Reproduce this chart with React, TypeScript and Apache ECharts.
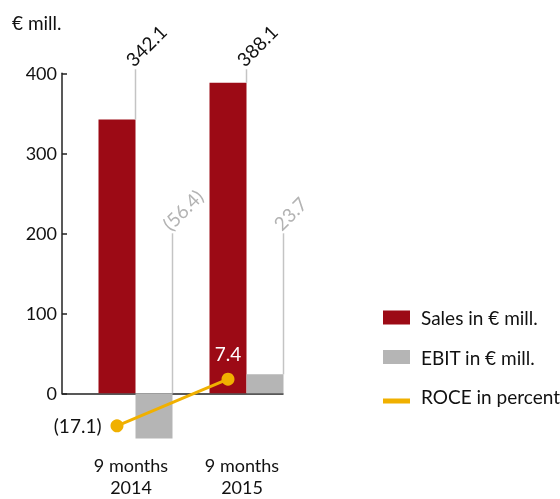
import React, { useEffect, useRef } from "react";
import * as echarts from "echarts";

const categories = ["9 months\n2014", "9 months\n2015"];
const sales = [342.1, 388.1];
const ebit = [-56.4, 23.7];
const roce = [-17.1, 7.4];
const salesLabels = ["342.1", "388.1"];
const ebitLabels = ["(56.4)", "23.7"];
const roceLabels = ["(17.1)", "7.4"];
const yTicksMax = 400;
const SALES_LABEL_LEVEL = 405;
const EBIT_LABEL_LEVEL = 200;

const RED = "#9c0a15";
const GRAY = "#b5b5b5";
const ORANGE = "#f0b000";
const FONT = "Lato";
const BAR_W = 37;

// vertical geometry: value 0 at y=393.3, 0.8 px per € mill.
const TOP = 73.3;
const ZERO_Y = 393.3;
const PX_PER_PCT = 1.9;
const PX_PER_MILL = 0.8;
const MIN_MILL = -60;
const BOTTOM_Y = ZERO_Y - MIN_MILL * PX_PER_MILL;

export default function App() {
  const ref = useRef<HTMLDivElement>(null);
  useEffect(() => {
    const chart = echarts.init(ref.current!, undefined, { renderer: "svg" });
    const leader = (values: number[], labels: string[], level: number, offset: number, color: string) => ({
      type: "custom",
      xAxisIndex: 0,
      yAxisIndex: 0,
      clip: false,
      z: 5,
      data: values.map((v, i) => [i, v]),
      renderItem: (params: any, api: any) => {
        const idx = api.value(0);
        const v = api.value(1);
        const cx = api.coord([idx, 0])[0] + offset;
        const y1 = api.coord([idx, Math.max(v, 0)])[1];
        const y2 = api.coord([idx, level])[1];
        return {
          type: "group",
          children: [
            { type: "line", shape: { x1: cx, y1, x2: cx, y2 }, style: { stroke: "#c4c4c4", lineWidth: 1.5 } },
            {
              type: "text",
              x: cx,
              y: y2,
              rotation: Math.PI / 4,
              style: {
                text: labels[params.dataIndex],
                fill: color,
                font: `19px ${FONT}`,
                textAlign: "left",
                textVerticalAlign: "bottom",
              },
            },
          ],
        };
      },
    });
    const option: any = {
      animation: false,
      title: {
        text: "€ mill.",
        left: 12,
        top: 13,
        padding: 0,
        textStyle: { fontFamily: FONT, fontSize: 19, fontWeight: "normal", color: "#111" },
      },
      legend: {
        orient: "vertical",
        left: 383,
        top: 308,
        padding: 0,
        itemWidth: 27,
        itemHeight: 14,
        itemGap: 20.5,
        textStyle: { fontFamily: FONT, fontSize: 19, lineHeight: 16, color: "#111", padding: [0, 0, 0, 6] },
        data: [
          { name: "Sales in € mill.", icon: "rect" },
          { name: "EBIT in € mill.", icon: "rect" },
          { name: "ROCE in percent", icon: "path://M0,0 Z M0,28 Z M0,18 L54,18 L54,28 L0,28 Z" },
        ],
      },
      grid: [
        { left: 80, width: 222, top: TOP, bottom: 499 - BOTTOM_Y, outerBoundsMode: "none" },
        { left: 61.5, width: 222, top: TOP, bottom: 499 - BOTTOM_Y, outerBoundsMode: "none" },
        { left: 62, width: 221, top: TOP, bottom: 499 - ZERO_Y, outerBoundsMode: "none" },
      ],
      xAxis: [
        {
          type: "category",
          gridIndex: 0,
          data: categories,
          axisLine: { show: false, onZero: false },
          axisTick: { show: false },
          axisLabel: {
            margin: 13,
            fontFamily: FONT,
            fontSize: 18,
            lineHeight: 22,
            color: "#111",
            padding: [0, 9, 0, 0],
          },
        },
        { type: "category", gridIndex: 1, data: categories, show: false },
        {
          type: "value",
          gridIndex: 2,
          min: 0,
          max: 1,
          axisLine: { show: true, lineStyle: { color: "#222", width: 1.5 } },
          axisTick: { show: false },
          axisLabel: { show: false },
          splitLine: { show: false },
        },
      ],
      yAxis: [
        { type: "value", gridIndex: 0, min: MIN_MILL, max: 400, show: false, splitLine: { show: false } },
        {
          type: "value",
          gridIndex: 1,
          min: (ZERO_Y - BOTTOM_Y) / PX_PER_PCT,
          max: (ZERO_Y - TOP) / PX_PER_PCT,
          show: false,
          splitLine: { show: false },
        },
        {
          type: "value",
          gridIndex: 2,
          min: 0,
          max: yTicksMax,
          interval: 100,
          axisLine: { show: true, lineStyle: { color: "#222", width: 1.5 } },
          axisTick: { show: true, inside: true, length: 5, lineStyle: { color: "#222", width: 1.5 } },
          axisLabel: { fontFamily: FONT, fontSize: 18, color: "#111", margin: 5 },
          splitLine: { show: false },
        },
      ],
      series: [
        {
          name: "Sales in € mill.",
          type: "bar",
          xAxisIndex: 0,
          yAxisIndex: 0,
          data: sales,
          barWidth: BAR_W,
          barGap: "0%",
          itemStyle: { color: RED },
        },
        {
          name: "EBIT in € mill.",
          type: "bar",
          xAxisIndex: 0,
          yAxisIndex: 0,
          data: ebit,
          barWidth: BAR_W,
          barGap: "0%",
          itemStyle: { color: GRAY },
        },
        {
          name: "ROCE in percent",
          type: "line",
          xAxisIndex: 1,
          yAxisIndex: 1,
          symbol: "circle",
          symbolSize: 13,
          z: 10,
          lineStyle: { color: ORANGE, width: 3 },
          itemStyle: { color: ORANGE },
          label: {
            show: true,
            fontFamily: FONT,
            fontSize: 19,
            formatter: (p: any) => roceLabels[p.dataIndex],
          },
          data: roce.map((v, i) =>
            i === 0
              ? { value: v, label: { position: "left", distance: 9, color: "#111" } }
              : { value: v, label: { position: "top", distance: 10, color: "#fff" } }
          ),
        },
        leader(sales, salesLabels, SALES_LABEL_LEVEL, 0, "#111"),
        leader(ebit, ebitLabels, EBIT_LABEL_LEVEL, BAR_W, "#b3b3b3"),
      ],
    };
    chart.setOption(option);
    return () => chart.dispose();
  }, []);
  return <div ref={ref} style={{ position: "fixed", left: 0, top: 0, width: 560, height: 499 }} />;
}
